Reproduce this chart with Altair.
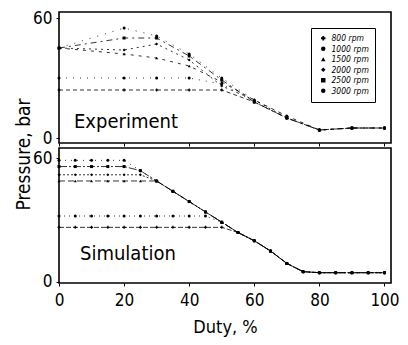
import altair as alt
import pandas as pd

rpm_labels = ["800 rpm", "1000 rpm", "1500 rpm", "2000 rpm", "2500 rpm", "3000 rpm"]

# Experiment (duty %, pressure bar)
exp_duty = [0, 20, 30, 40, 50, 60, 70, 80, 90, 100]
exp_800 = [24, 24, 24, 24, 24, 18, 10, 4, 5, 5]
exp_1000 = [30, 30, 30, 30, 27, 18, 10, 4, 5, 5]
exp_1500 = [45, 42, 40, 36, 28, 19, 11, 4, 5, 5]
exp_2000 = [45, 44, 47, 39, 26, 19, 10, 4, 5, 5]
exp_2500 = [45, 50, 50, 41, 29, 18, 10, 4, 5, 5]
exp_3000 = [45, 55, 51, 42, 30, 19, 11, 4, 5, 5]

# Simulation
sim_duty = [0, 5, 10, 15, 20, 25, 30, 35, 40, 45, 50, 55, 60, 65, 70, 75, 80, 85, 90, 95, 100]
sim_800 = [26.5, 26.5, 26.5, 26.5, 26.5, 26.5, 26.5, 26.5, 26.5, 26.5, 26.5, 24, 20, 15, 9, 5, 4.5, 4.5, 4.5, 4.5, 4.5]
sim_1000 = [32, 32, 32, 32, 32, 32, 32, 32, 32, 32, 29, 24, 20, 15, 9, 5, 4.5, 4.5, 4.5, 4.5, 4.5]
sim_1500 = [49, 49, 49, 49, 49, 49, 49, 44, 39, 34, 29, 24, 20, 15, 9, 5, 4.5, 4.5, 4.5, 4.5, 4.5]
sim_2000 = [52, 52, 52, 52, 52, 52, 49, 44, 39, 34, 29, 24, 20, 15, 9, 5, 4.5, 4.5, 4.5, 4.5, 4.5]
sim_2500 = [56, 56, 56, 56, 56, 54, 49, 44, 39, 34, 29, 24, 20, 15, 9, 5, 4.5, 4.5, 4.5, 4.5, 4.5]
sim_3000 = [59, 59, 59, 59, 59, 54, 49, 44, 39, 34, 29, 24, 20, 15, 9, 5, 4.5, 4.5, 4.5, 4.5, 4.5]

x_ticks = [0, 20, 40, 60, 80, 100]
y_ticks = [0, 60]


def to_long(duty, series):
    rows = []
    for lab, vals in zip(rpm_labels, series):
        for d, v in zip(duty, vals):
            rows.append({"duty": d, "p": v, "rpm": lab})
    return pd.DataFrame(rows)


exp_df = to_long(exp_duty, [exp_800, exp_1000, exp_1500, exp_2000, exp_2500, exp_3000])
sim_df = to_long(sim_duty, [sim_800, sim_1000, sim_1500, sim_2000, sim_2500, sim_3000])

FONT = "DejaVu Sans Condensed, Liberation Sans Narrow, Liberation Sans, sans-serif"
W = 332
exp_dash = [[4, 3], [1, 6], [3, 5], [2, 4], [6, 4, 2, 4], [1, 7]]
sim_dash = [[5, 2], [1, 4], [6, 3], [2, 2], [8, 2, 2, 2], [1, 5]]
shape_range = ["cross", "circle", "triangle-up", "diamond", "square", "circle"]


def panel(df, label, h, ydom, bottom, legend, ytitle, dash_range, text_y, text_x):
    xs = alt.Scale(domain=[0, 102], nice=False, zero=False)
    ys = alt.Scale(domain=ydom, nice=False, zero=False)
    if bottom:
        xax = alt.Axis(values=x_ticks, grid=False, title="Duty, %", tickSize=3,
                       labelPadding=6, labelFontSize=17, labelFont=FONT,
                       labelColor="black", titleFont=FONT, titleFontSize=18,
                       titleFontWeight="normal", titleColor="black", titleY=35,
                       labelFlush=False, domain=False, tickColor="black")
    else:
        xax = alt.Axis(values=x_ticks, grid=False, title=None, labels=False,
                       tickSize=3, domain=False, tickColor="black")
    yargs = dict(values=y_ticks, grid=False, tickSize=3, labelPadding=4,
                 labelFontSize=17, labelFont=FONT, labelColor="black",
                 domain=False, tickColor="black", labelFlush=False)
    if ytitle:
        yargs.update(title="Pressure, bar", titleFont=FONT, titleFontSize=19,
                     titleFontWeight="normal", titleColor="black",
                     titleX=-36, titleY=6, titleBaseline="middle",
                     titleAngle=270, titleAlign="center")
    else:
        yargs.update(title=None)
    yax = alt.Axis(**yargs)
    x = alt.X("duty:Q", scale=xs, axis=xax)
    y = alt.Y("p:Q", scale=ys, axis=yax)
    if legend:
        leg = alt.Legend(title=None, orient="top-right", offset=16,
                         strokeColor="black", padding=6, labelFont=FONT,
                         labelFontSize=8.5, labelFontStyle="italic",
                         labelColor="black", symbolSize=20, rowPadding=1.5,
                         symbolStrokeColor="black", symbolStrokeWidth=0.8,
                         labelLimit=60, fillColor="white", symbolOffset=2)
    else:
        leg = None
    line_pts = alt.Chart(df).mark_line(
        strokeWidth=0.8, color="black",
        point=alt.OverlayMarkDef(filled=True, size=9, color="black"),
    ).encode(
        x=x, y=y,
        strokeDash=alt.StrokeDash("rpm:N", scale=alt.Scale(domain=rpm_labels, range=dash_range), legend=leg),
        shape=alt.Shape("rpm:N", scale=alt.Scale(domain=rpm_labels, range=shape_range), legend=leg),
    )
    txt = alt.Chart(pd.DataFrame({"t": [label]})).mark_text(
        font=FONT, fontSize=20, align="left", baseline="alphabetic", color="black"
    ).encode(x=alt.value(text_x), y=alt.value(text_y), text="t:N")
    return alt.layer(line_pts, txt).properties(width=W, height=h)


top = panel(exp_df, "Experiment", 131, [-2.5, 63], False, True, False, exp_dash, 116, 15)
bot = panel(sim_df, "Simulation", 135, [-0.5, 65], True, False, True, sim_dash, 112, 21)

chart = alt.vconcat(top, bot, spacing=5, bounds="flush").resolve_scale(
    shape="independent", strokeDash="independent"
).resolve_legend(shape="independent", strokeDash="independent").properties(
    padding={"left": 5, "top": 0, "right": 0, "bottom": 0}
).configure(background="white").configure_view(stroke="black", strokeWidth=1.6)

chart.save("out.html", embed_options={"renderer": "svg", "actions": False})
